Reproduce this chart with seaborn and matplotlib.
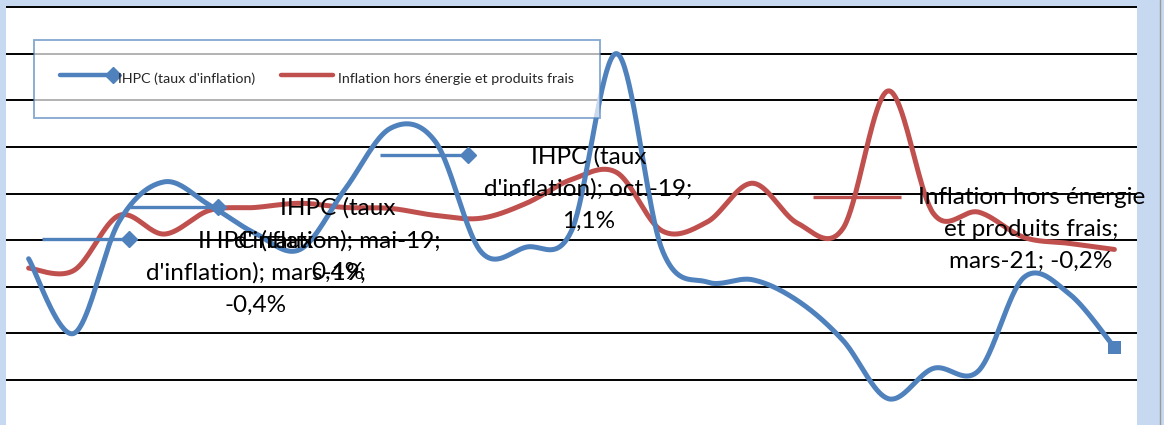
import textwrap

import matplotlib
matplotlib.use("Agg")
import matplotlib.pyplot as plt
import numpy as np
import pandas as pd
import seaborn as sns
from matplotlib.legend_handler import HandlerLine2D
from matplotlib.lines import Line2D
from matplotlib.offsetbox import AnnotationBbox, DrawingArea, HPacker, TextArea

# monthly series, mars-19 .. mars-21 (values in %)
MONTHS = [
    "mars-19", "avr.-19", "mai-19", "juin-19", "juil.-19", "août-19", "sept.-19",
    "oct.-19", "nov.-19", "déc.-19", "janv.-20", "févr.-20", "mars-20", "avr.-20",
    "mai-20", "juin-20", "juil.-20", "août-20", "sept.-20", "oct.-20", "nov.-20",
    "déc.-20", "janv.-21", "févr.-21", "mars-21",
]
IHPC = [-0.4, -2.0, 0.4, 1.25, 0.75, 0.15, -0.2, 1.1, 2.4, 2.1, -0.25, -0.15, 0.2,
        4.0, -0.2, -0.9, -0.85, -1.3, -2.15, -3.4, -2.75, -2.8, -0.8, -1.15, -2.3]
CORE = [-0.6, -0.65, 0.53, 0.13, 0.64, 0.7, 0.79, 0.7, 0.68, 0.53, 0.47, 0.79, 1.3,
        1.45, 0.2, 0.39, 1.22, 0.36, 0.25, 3.2, 0.57, 0.6, 0.06, -0.07, -0.2]

NAME_IHPC = "IHPC (taux d'inflation)"
NAME_CORE = "Inflation hors énergie et produits frais"

BLUE = "#4F81BD"
RED = "#C0504D"
PANEL = "#C6D9F1"

# data labels: series, month, offset of the label box (pixels)
LABELS = [
    (NAME_IHPC, "mars-19", 13, 29),
    (NAME_IHPC, "mai-19", 11, 24),
    (NAME_IHPC, "oct.-19", 35, 43),
    (NAME_CORE, "mars-21", -301, 62),
]


def excel_smooth(values, steps=40):
    """Smoothed line the way Excel draws it (Catmull-Rom as cubic Bezier)."""
    pts = np.column_stack([np.arange(len(values), dtype=float), np.asarray(values, float)])
    ext = np.vstack([pts[:1], pts, pts[-1:]])
    t = np.linspace(0, 1, steps, endpoint=False)[:, None]
    out = []
    for i in range(len(pts) - 1):
        p0, p1, p2, p3 = ext[i], ext[i + 1], ext[i + 2], ext[i + 3]
        b1 = p1 + (p2 - p0) / 6
        b2 = p2 - (p3 - p1) / 6
        out.append((1 - t) ** 3 * p1 + 3 * (1 - t) ** 2 * t * b1
                   + 3 * (1 - t) * t ** 2 * b2 + t ** 3 * p2)
    out.append(pts[-1:])
    return np.vstack(out)


class KeyAtEnd(HandlerLine2D):
    """Legend key with the marker on the right end of the line (Excel style)."""

    def create_artists(self, legend, orig_handle, xdescent, ydescent, width, height, fontsize, trans):
        artists = super().create_artists(legend, orig_handle, xdescent, ydescent,
                                         width, height, fontsize, trans)
        line = artists[0]
        line.set_markevery([len(line.get_xdata()) - 1])
        return artists


sns.set_theme(style="white")
plt.rcParams["font.family"] = ["Lato", "DejaVu Sans"]

W, H = 1164, 425
fig = plt.figure(figsize=(W / 100, H / 100), dpi=100, facecolor=PANEL)
ax = fig.add_axes([6 / W, 0, 1131 / W, 419 / H])
ax.set_facecolor("white")

frames = []
for name, vals in [(NAME_CORE, CORE), (NAME_IHPC, IHPC)]:
    xy = excel_smooth(vals)
    frames.append(pd.DataFrame({"x": xy[:, 0], "y": xy[:, 1], "série": name}))
curves = pd.concat(frames, ignore_index=True)

sns.lineplot(data=curves, x="x", y="y", hue="série", palette={NAME_IHPC: BLUE, NAME_CORE: RED},
             sort=False, estimator=None, lw=3.6, legend=False, ax=ax, zorder=3)
sns.scatterplot(x=[len(MONTHS) - 1], y=[IHPC[-1]], marker="s", s=95, color=BLUE,
                edgecolor="none", ax=ax, zorder=4)

ax.set_xlim(-0.5, len(MONTHS) - 0.5)
ax.set_ylim(5 - 418 / 46.625, 5 + 1 / 46.625)
ax.set_yticks(range(-3, 6))
ax.set_xticks([])
ax.tick_params(left=False, labelleft=False, bottom=False)
ax.yaxis.grid(True, color="black", lw=1.4)
ax.xaxis.grid(False)
ax.set_xlabel("")
ax.set_ylabel("")
for s in ax.spines.values():
    s.set_visible(False)

# data labels with their legend key in front
series = {NAME_IHPC: (IHPC, BLUE, "D"), NAME_CORE: (CORE, RED, None)}
for name, month, dx, dy in LABELS:
    vals, color, marker = series[name]
    i = MONTHS.index(month)
    value = f"{vals[i]:.1f}%".replace(".", ",")
    text = textwrap.fill(f"{name}; {month}; {value}", width=22)
    key = DrawingArea(66, 20)
    key.add_artist(Line2D([0, 63], [13.2, 13.2], color=color, lw=2.4, solid_capstyle="butt"))
    if marker:
        key.add_artist(Line2D([63], [13.2], marker=marker, ms=8, color=color))
    label = TextArea(text, textprops=dict(fontsize=17.5, color="black", ha="center",
                                          multialignment="center", linespacing=1.63))
    box = HPacker(children=[key, label], align="top", pad=0, sep=9)
    ab = AnnotationBbox(box, (i, vals[i]), xybox=(dx, dy), xycoords="data",
                        boxcoords="offset pixels", box_alignment=(0, 1),
                        frameon=False, pad=0, annotation_clip=False, zorder=5)
    ax.add_artist(ab)

handles = [
    Line2D([], [], color=BLUE, lw=3.2, marker="D", ms=8),
    Line2D([], [], color=RED, lw=3.2),
]
leg = ax.legend(handles, [NAME_IHPC, NAME_CORE], handler_map={handles[0]: KeyAtEnd()},
                ncol=2, fontsize=10.3, handlelength=3.7, handletextpad=0.35, columnspacing=1.8,
                handleheight=2.5, borderpad=1.8, loc="upper left",
                bbox_to_anchor=(34 / W, 1 - 40 / H), bbox_transform=fig.transFigure,
                borderaxespad=0, fancybox=False, frameon=True, facecolor="white",
                framealpha=0.7, edgecolor=BLUE)
leg.get_frame().set_linewidth(1.3)
leg.set_zorder(6)

# outer chart border on the right
fig.add_artist(Line2D([1160 / W, 1160 / W], [0, 1], transform=fig.transFigure,
                      color="#9A9A9A", lw=1))

fig.savefig("out.png", dpi=100, facecolor=PANEL)
